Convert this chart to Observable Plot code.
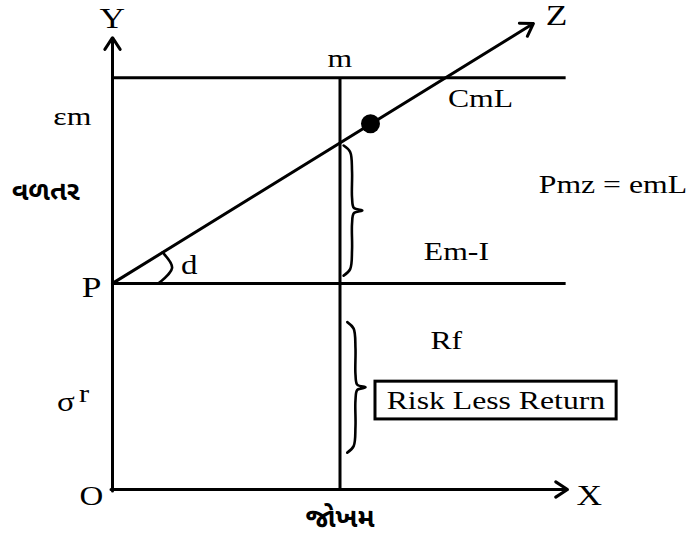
<!DOCTYPE html>
<html>
<head>
<meta charset="utf-8">
<script src="https://cdn.jsdelivr.net/npm/d3@7"></script>
<script src="https://cdn.jsdelivr.net/npm/@observablehq/plot@0.6"></script>
<style>
  html, body { margin: 0; padding: 0; background: #fff; }
  #chart svg { display: block; }
</style>
</head>
<body>
<div id="chart"></div>
<script>
// Diagram coordinates: origin O at (0,0); x = risk (જોખમ), y = return (વળતર)
const axisEnd = { x: 10, y: 9.93 };
const riskFreeY = 4.53;          // P level (Rf)
const marketLevelY = 9.05;        // top horizontal line (εm)
const marketX = 5.0;              // vertical line through m
const lineEnd = 9.97;             // end of horizontal lines
const cmlTip = { x: 9.25, y: 10.24 }; // Z arrow tip
const marketPoint = { x: 5.67, y: 8.04 };

// labels: [text, x, y, size]
const labels = [
  ["Y", 0, 10.35, 29],
  ["X", 10.48, -0.13, 29],
  ["Z", 9.76, 10.42, 29],
  ["m", 5.0, 9.47, 26],
  ["εm", -0.88, 8.2, 26],
  ["P", -0.46, 4.44, 29],
  ["O", -0.46, -0.14, 27],
  ["CmL", 8.09, 8.6, 26],
  ["Pmz = emL", 11.0, 6.7, 26],
  ["Em-I", 7.56, 5.22, 26],
  ["Rf", 7.34, 3.27, 26],
  ["d", 1.69, 4.93, 27],
  ["σ", -1.02, 1.92, 27]
];
const supLabels = [["r", -0.62, 2.09, 25]];
const gujLabels = [
  ["વળતર", -1.47, 6.55, 27],
  ["જોખમ", 5.0, -0.64, 27]
];
const boxLabel = { text: "Risk Less Return", x1: 5.78, x2: 11.08, y1: 1.54, y2: 2.37 };

// braces: [xStart, xTip, yTop, yBottom]
const braces = [
  [5.08, 5.49, 7.56, 4.70],
  [5.16, 5.56, 3.68, 0.81]
];
// brace outline shape (normalized: u across, v down)
const braceShape = [[0,0],[0.35,0.05],[0.45,0.2],[0.45,0.4],[0.55,0.48],[1,0.5],[0.55,0.52],[0.45,0.6],[0.45,0.8],[0.35,0.95],[0,1]];
const bracePts = braces.flatMap(([x0, xt, yt, yb], k) =>
  braceShape.map(([u, v]) => ({ k, x: x0 + u * (xt - x0), y: yt + v * (yb - yt) })));

// angle arc 'd' at P
const arcPts = [{x: 1.10, y: 5.21}, {x: 1.31, y: 4.87}, {x: 1.01, y: riskFreeY}];

const W = 688, H = 543;
const textStyle = { fontFamily: "Liberation Serif, Times New Roman, serif", fill: "black" };
const arrowStyle = { x1: "x1", y1: "y1", x2: "x2", y2: "y2", stroke: "black", strokeWidth: 3, headLength: 7, headAngle: 66 };

const svg = Plot.plot({
  width: W, height: H,
  marginTop: 0, marginRight: 0, marginBottom: 0, marginLeft: 0,
  x: { domain: [-112 / 45.5, (W - 112) / 45.5], axis: null },
  y: { domain: [-(H - 489) / 45.5, 489 / 45.5], axis: null },
  style: { background: "white" },
  marks: [
    Plot.ruleY([marketLevelY, riskFreeY], { x1: 0, x2: lineEnd, stroke: "black", strokeWidth: 3 }),
    Plot.ruleX([marketX], { y1: 0, y2: marketLevelY, stroke: "black", strokeWidth: 3 }),
    Plot.arrow([{x1: 0, y1: -0.033, x2: 0, y2: axisEnd.y}, {x1: -0.033, y1: 0, x2: axisEnd.x, y2: 0}], arrowStyle),
    Plot.arrow([{x1: 0, y1: riskFreeY, x2: cmlTip.x, y2: cmlTip.y}], arrowStyle),
    Plot.dot([marketPoint], { x: "x", y: "y", r: 9.5, fill: "black" }),
    Plot.line(bracePts, { x: "x", y: "y", z: "k", curve: "catmull-rom", stroke: "black", strokeWidth: 2.6 }),
    Plot.line(arcPts, { x: "x", y: "y", curve: "catmull-rom", stroke: "black", strokeWidth: 2.6 }),
    Plot.rect([boxLabel], { x1: "x1", x2: "x2", y1: "y1", y2: "y2", fill: "white", stroke: "black", strokeWidth: 3 }),
    Plot.text([boxLabel], { x: d => (d.x1 + d.x2) / 2, y: d => (d.y1 + d.y2) / 2, text: "text", fontSize: 26, ...textStyle }),
    Plot.text(labels, { x: d => d[1], y: d => d[2], text: d => d[0], fontSize: d => d[3], ...textStyle }),
    Plot.text(supLabels, { x: d => d[1], y: d => d[2], text: d => d[0], fontSize: d => d[3], ...textStyle }),
    Plot.text(gujLabels, { x: d => d[1], y: d => d[2], text: d => d[0], fontSize: d => d[3], fontWeight: "bold",
      fontFamily: "Noto Sans Gujarati, Lohit Gujarati, sans-serif", fill: "black" })
  ]
});

document.getElementById("chart").appendChild(svg);

// widen the serif glyphs horizontally (reference lettering is stretched)
const svgRect = svg.getBoundingClientRect();
svg.querySelectorAll('g[aria-label="text"] text').forEach(t => {
  if (/[\u0A80-\u0AFF]/.test(t.textContent)) return;
  const r = t.getBoundingClientRect();
  const cx = r.left + r.width / 2 - svgRect.left;
  const g = document.createElementNS("http://www.w3.org/2000/svg", "g");
  g.setAttribute("transform", `translate(${cx},0) scale(1.22,1) translate(${-cx},0)`);
  t.parentNode.insertBefore(g, t);
  g.appendChild(t);
});
</script>
</body>
</html>
